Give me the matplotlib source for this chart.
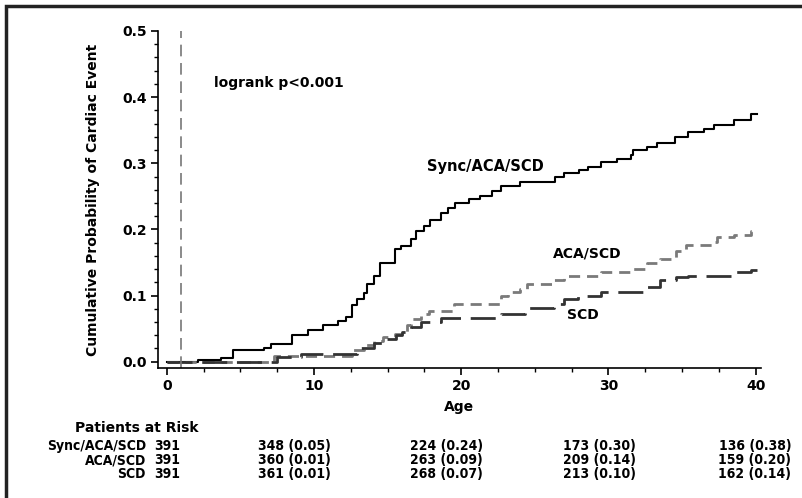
import numpy as np
import matplotlib
matplotlib.use("Agg")
import matplotlib.pyplot as plt
from matplotlib.ticker import MultipleLocator
from matplotlib.transforms import blended_transform_factory
from matplotlib.patches import Rectangle

# step curves (age, cumulative probability)
sync_t = [0, 2.1, 3.7, 4.5, 6.6, 7.1, 8.5, 9.6, 10.6, 11.6, 12.2, 12.6, 12.95, 13.4,
          13.6, 14.1, 14.5, 15.5, 15.9, 16.6, 16.9, 17.5, 17.9, 18.6, 19.1, 19.6, 20.5,
          21.3, 22.1, 22.7, 24.0, 26.4, 27.0, 28.0, 28.6, 29.5, 30.6, 31.5, 31.7, 32.6,
          33.3, 34.5, 35.4, 36.5, 37.2, 38.5, 39.7, 40.1]
sync_v = [0, 0.002, 0.005, 0.017, 0.02, 0.027, 0.04, 0.048, 0.055, 0.062, 0.067, 0.085,
          0.095, 0.104, 0.118, 0.13, 0.15, 0.17, 0.175, 0.185, 0.198, 0.205, 0.215, 0.225,
          0.232, 0.24, 0.246, 0.25, 0.258, 0.265, 0.272, 0.279, 0.285, 0.29, 0.295, 0.302,
          0.307, 0.312, 0.32, 0.325, 0.33, 0.34, 0.348, 0.352, 0.358, 0.366, 0.375, 0.375]

aca_t = [0, 7.3, 12.6, 13.4, 14.1, 14.7, 15.5, 16.3, 16.6, 17.25, 17.8, 19.5, 22.7, 23.2,
         24.0, 24.5, 26.3, 27.0, 29.5, 31.7, 32.6, 33.5, 34.6, 35.3, 37.1, 37.4, 38.5,
         39.7, 40.1]
aca_v = [0, 0.009, 0.018, 0.025, 0.031, 0.037, 0.042, 0.055, 0.065, 0.072, 0.077, 0.087,
         0.1, 0.105, 0.11, 0.118, 0.123, 0.13, 0.135, 0.14, 0.15, 0.156, 0.168, 0.176,
         0.181, 0.188, 0.192, 0.198, 0.198]

scd_t = [0, 7.5, 9.1, 12.9, 14.07, 14.7, 15.6, 16.0, 16.6, 17.25, 18.6, 22.7, 24.3, 26.3,
         27.0, 27.9, 29.5, 32.6, 33.5, 34.6, 35.4, 38.5, 39.7, 40.1]
scd_v = [0, 0.007, 0.012, 0.021, 0.029, 0.035, 0.04, 0.045, 0.052, 0.06, 0.066, 0.072,
         0.081, 0.088, 0.095, 0.1, 0.105, 0.113, 0.123, 0.128, 0.13, 0.135, 0.139, 0.139]

groups = ["Sync/ACA/SCD", "ACA/SCD", "SCD"]
risk_rows = [
    ["391", "348 (0.05)", "224 (0.24)", "173 (0.30)", "136 (0.38)"],
    ["391", "360 (0.01)", "263 (0.09)", "209 (0.14)", "159 (0.20)"],
    ["391", "361 (0.01)", "268 (0.07)", "213 (0.10)", "162 (0.14)"],
]
risk_x = [0, 8.65, 19.0, 29.4, 39.95]

plt.rcParams["font.family"] = "DejaVu Sans"
plt.rcParams["font.weight"] = "bold"

fig = plt.figure(figsize=(8.02, 4.98), dpi=100)
W, H = 802, 498
ax = fig.add_axes([158 / W, 1 - 368 / H, (761 - 158) / W, (368 - 31) / H])

ax.step(sync_t, sync_v, where="post", color="black", lw=1.5)
ax.step(aca_t, aca_v, where="post", color="#7a7a7a", lw=2, dashes=(4, 2.5))
ax.step(scd_t, scd_v, where="post", color="#333333", lw=2, dashes=(9, 3.5))
ax.axvline(1, color="#777777", lw=1.2, dashes=(7, 4))

ax.set_xlim(-0.59, 40.36)
ax.set_ylim(-0.0095, 0.5)
for s in ["top", "right"]:
    ax.spines[s].set_visible(False)
ax.spines["left"].set_linewidth(1.2)
ax.spines["bottom"].set_linewidth(1.2)

ax.xaxis.set_major_locator(MultipleLocator(10))
ax.xaxis.set_minor_locator(MultipleLocator(2.5))
ax.yaxis.set_major_locator(MultipleLocator(0.1))
ax.yaxis.set_minor_locator(MultipleLocator(0.02))
ax.yaxis.set_major_formatter(matplotlib.ticker.FormatStrFormatter("%.1f"))
ax.tick_params(which="major", length=5, width=1.2, labelsize=10, pad=3)
ax.tick_params(which="minor", length=3, width=1.0)

ax.set_xlabel("Age", fontsize=10, fontweight="bold", labelpad=5)
ax.set_ylabel("Cumulative Probability of Cardiac Event", fontsize=10,
              fontweight="bold", labelpad=16)

ax.text(3.2, 0.421, "logrank p<0.001", fontsize=10, va="center")
ax.text(17.7, 0.295, "Sync/ACA/SCD", fontsize=10.5, va="center")
ax.text(26.2, 0.164, "ACA/SCD", fontsize=10, va="center")
ax.text(27.2, 0.07, "SCD", fontsize=10, va="center")

# patients at risk table
tr = blended_transform_factory(ax.transData, fig.transFigure)
fig.text(137 / W, 1 - 428 / H, "Patients at Risk", fontsize=10, ha="center", va="center")
row_y = [446, 460, 474]
for name, row, py in zip(groups, risk_rows, row_y):
    fig.text(146 / W, 1 - py / H, name, fontsize=10, ha="right", va="center",
             fontstretch="condensed")
    for x, val in zip(risk_x, row):
        ax.text(x, 1 - py / H, val, transform=tr, fontsize=10, ha="center",
                va="center", fontstretch="condensed")

# outer frame
fig.patches.append(Rectangle((6 / W, -0.1), 1.2, 1 - 6 / H + 0.1, transform=fig.transFigure,
                             fill=False, ec="#222222", lw=2.5))

fig.savefig("out.png", dpi=100)
